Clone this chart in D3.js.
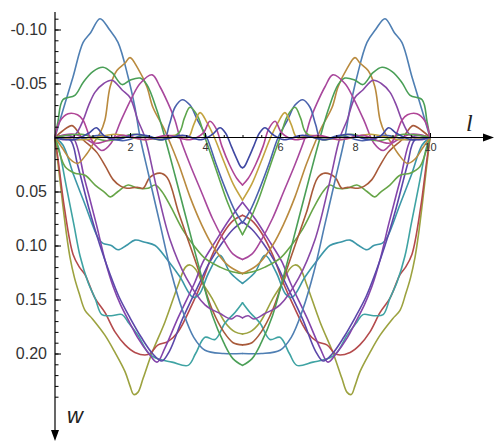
<!DOCTYPE html>
<html>
<head>
<meta charset="utf-8">
<script src="https://cdnjs.cloudflare.com/ajax/libs/d3/7.8.5/d3.min.js"></script>
<style>
  html, body { margin: 0; padding: 0; background: #fff; }
  svg { display: block; }
  .tick text { fill: #333; font-family: "Liberation Sans", Arial, sans-serif; }
</style>
</head>
<body>
<svg id="chart" width="494" height="441"></svg>
<script>
// Deflection snapshots w(l). The figure is mirror-symmetric about l = 5,
// so each curve is read off the left half (l = 0..5) and drawn twice,
// once with the normal x scale and once with the mirrored one.

const xTicks = [2, 4, 6, 8, 10];
const yTicks = [-0.10, -0.05, 0.05, 0.10, 0.15, 0.20];

// --- curves with a bump above the axis, then dropping toward the middle
const steelBlue = [[0,0],[0.21,-0.025],[0.48,-0.056],[0.75,-0.088],[0.95,-0.097],[1.2,-0.11],[1.45,-0.1],[1.68,-0.088],[1.95,-0.056],[2.13,-0.028],[2.27,0],[2.5,0.035],[2.8,0.08],[3.1,0.125],[3.4,0.16],[3.7,0.185],[4.0,0.197],[4.5,0.2],[5,0.2]];
const orange = [[0,0],[0.2,0.01],[0.4,0.02],[0.6,0.024],[0.85,0.015],[1.05,0.004],[1.2,-0.004],[1.33,-0.016],[1.47,-0.047],[1.65,-0.062],[1.87,-0.069],[2.0,-0.074],[2.21,-0.064],[2.45,-0.047],[2.61,-0.028],[2.88,-0.01],[3.01,0],[3.3,0.025],[3.6,0.055],[3.9,0.08],[4.2,0.1],[4.6,0.118],[5,0.126]];
const green = [[0,0],[0.08,-0.015],[0.21,-0.035],[0.53,-0.039],[0.75,-0.051],[1.01,-0.061],[1.28,-0.065],[1.52,-0.06],[1.79,-0.049],[2.0,-0.053],[2.27,-0.055],[2.45,-0.049],[2.72,-0.025],[2.93,0],[3.2,0.035],[3.5,0.075],[3.9,0.128],[4.2,0.165],[4.5,0.19],[4.75,0.205],[5,0.211]];
const purple = [[0,0],[0.3,0.002],[0.55,-0.003],[0.75,-0.016],[0.9,-0.03],[1.07,-0.042],[1.3,-0.05],[1.52,-0.053],[1.79,-0.044],[2.0,-0.037],[2.21,-0.016],[2.4,0],[2.7,0.045],[3.07,0.095],[3.5,0.13],[4.0,0.155],[4.4,0.163],[4.7,0.168],[4.85,0.165],[5,0.167]];
const magenta = [[0,0],[0.5,-0.003],[1.0,0.005],[1.25,0.012],[1.5,0.005],[1.75,-0.015],[2.05,-0.037],[2.27,-0.05],[2.59,-0.058],[2.8,-0.047],[3.01,-0.032],[3.2,-0.016],[3.33,0],[3.6,0.025],[3.9,0.05],[4.2,0.075],[4.5,0.095],[4.75,0.108],[5,0.113]];
const blue = [[0,0],[0.6,0.002],[1.2,-0.002],[1.8,0.003],[2.4,-0.002],[2.9,0.002],[3.05,-0.012],[3.2,-0.028],[3.39,-0.035],[3.6,-0.03],[3.8,-0.016],[4.05,0],[4.3,0.025],[4.55,0.048],[4.8,0.068],[5,0.079]];
const green2 = [[0,0],[0.7,-0.003],[1.4,0.003],[2.1,-0.003],[2.8,0.002],[3.3,-0.004],[3.45,-0.018],[3.6,-0.028],[3.8,-0.02],[4.0,0],[4.3,0.03],[4.6,0.06],[4.85,0.08],[5,0.09]];
const amber = [[0,0],[0.8,0.002],[1.6,-0.003],[2.4,0.002],[3.2,-0.002],[3.55,0],[3.7,-0.012],[3.87,-0.023],[4.05,-0.014],[4.25,0],[4.5,0.022],[4.75,0.043],[5,0.058]];
const rose = [[0,0],[0.13,-0.015],[0.35,-0.022],[0.6,-0.021],[0.75,-0.016],[0.9,-0.003],[1.05,0.005],[1.3,0.004],[1.8,-0.002],[2.4,0.002],[3.0,-0.002],[3.6,0.002],[3.95,-0.004],[4.13,-0.015],[4.3,-0.008],[4.45,0.008],[4.65,0.025],[4.85,0.038],[5,0.044]];
const navy = [[0,0],[0.5,0.002],[0.9,-0.004],[1.1,-0.009],[1.3,-0.002],[1.6,0.002],[2.2,-0.003],[2.8,0.002],[3.4,-0.002],[3.9,0.002],[4.2,-0.003],[4.4,-0.009],[4.55,-0.004],[4.7,0.008],[4.85,0.02],[4.95,0.027],[5,0.028]];
const brown = [[0,0],[0.2,-0.006],[0.45,-0.011],[0.6,-0.006],[0.75,0.002],[0.95,0.008],[1.12,0.014],[1.35,0.027],[1.55,0.039],[1.75,0.045],[1.92,0.047],[2.19,0.046],[2.35,0.047],[2.53,0.037],[2.8,0.033],[2.99,0.037],[3.3,0.07],[3.6,0.1],[3.9,0.13],[4.2,0.16],[4.5,0.18],[4.75,0.19],[5,0.192]];
const lime = [[0,0],[0.1,0.012],[0.27,0.027],[0.53,0.033],[0.8,0.035],[1.07,0.044],[1.33,0.051],[1.47,0.055],[1.68,0.05],[1.95,0.044],[2.21,0.047],[2.48,0.047],[2.67,0.044],[2.85,0.05],[3.1,0.065],[3.4,0.085],[3.7,0.1],[4.0,0.112],[4.4,0.12],[4.7,0.124],[5,0.126]];

// --- curves dropping straight down from the ends, then rising to the middle
const olive = [[0,0],[0.1,0.03],[0.2,0.06],[0.3,0.088],[0.4,0.111],[0.52,0.13],[0.65,0.145],[0.8,0.16],[1.0,0.168],[1.33,0.183],[1.6,0.199],[1.87,0.217],[2.0,0.23],[2.1,0.238],[2.21,0.236],[2.35,0.223],[2.59,0.199],[2.93,0.171],[3.28,0.137],[3.48,0.12],[3.6,0.118],[3.75,0.122],[3.92,0.134],[4.19,0.149],[4.53,0.171],[4.8,0.18],[5,0.182]];
const red = [[0,0],[0.1,0.025],[0.25,0.065],[0.48,0.108],[0.65,0.12],[0.8,0.127],[1.07,0.149],[1.33,0.162],[1.6,0.18],[1.87,0.192],[2.13,0.199],[2.48,0.201],[2.75,0.192],[3.01,0.189],[3.28,0.18],[3.65,0.155],[3.92,0.134],[4.19,0.109],[4.5,0.088],[4.75,0.077],[5,0.072]];
const teal = [[0,0],[0.1,0.01],[0.3,0.045],[0.5,0.08],[0.67,0.11],[0.88,0.134],[1.07,0.149],[1.25,0.164],[1.5,0.165],[1.79,0.164],[1.95,0.171],[2.21,0.183],[2.48,0.199],[2.67,0.204],[3.12,0.208],[3.55,0.211],[3.75,0.2],[4.0,0.185],[4.27,0.187],[4.53,0.172],[4.8,0.162],[5,0.153]];
const cyan = [[0,0],[0.21,0.007],[0.5,0.035],[0.8,0.062],[1.15,0.093],[1.28,0.098],[1.5,0.1],[1.68,0.104],[1.9,0.1],[2.13,0.095],[2.4,0.097],[2.67,0.1],[2.99,0.113],[3.33,0.129],[3.68,0.148],[3.85,0.145],[4.1,0.125],[4.4,0.109],[4.67,0.125],[5,0.135]];
const violet = [[0,0],[0.25,-0.002],[0.48,0],[0.8,0.04],[1.1,0.08],[1.33,0.113],[1.55,0.138],[1.75,0.155],[2.0,0.172],[2.2,0.185],[2.5,0.2],[2.72,0.208],[2.93,0.195],[3.28,0.167],[3.73,0.134],[3.95,0.115],[4.3,0.095],[4.65,0.076],[5,0.06]];
const indigo = [[0,0],[0.4,0.002],[0.6,0.025],[0.9,0.065],[1.2,0.1],[1.45,0.125],[1.7,0.147],[2.0,0.167],[2.3,0.185],[2.6,0.2],[2.85,0.207],[3.05,0.198],[3.4,0.168],[3.85,0.135],[4.1,0.117],[4.45,0.098],[4.75,0.085],[5,0.078]];

const curves = [
  ["olive", olive], ["red", red], ["teal", teal], ["cyan", cyan], ["violet", violet], ["indigo", indigo],
  ["lime", lime], ["brown", brown], ["steelBlue", steelBlue], ["orange", orange], ["green", green],
  ["purple", purple], ["magenta", magenta], ["blue", blue], ["green2", green2], ["amber", amber],
  ["rose", rose], ["navy", navy]
];

const colors = {
  steelBlue: "#4f7fb3", orange: "#b98a3e", green: "#4a9f57", purple: "#8848a6", magenta: "#a8479c",
  blue: "#4b62ad", green2: "#5da64c", amber: "#c3a33f", rose: "#b04596", navy: "#3f48a2",
  brown: "#a85a3a", lime: "#67a548", olive: "#9ca23f", red: "#b44a4c", teal: "#3fa3a3",
  cyan: "#3c97a8", violet: "#8444ab", indigo: "#5c47aa"
};

const svg = d3.select("#chart");
const x = d3.scaleLinear().domain([0, 10]).range([55, 430]);
const xMirror = d3.scaleLinear().domain([10, 0]).range([55, 430]);
const y = d3.scaleLinear().domain([0, 0.2]).range([137.5, 353.5]);

// curves
const gCurves = svg.append("g").attr("fill", "none").attr("stroke-width", 1.6)
  .attr("stroke-linejoin", "round").attr("stroke-linecap", "round");
[x, xMirror].forEach((sx) => {
  const line = d3.line().x((d) => sx(d[0])).y((d) => y(d[1])).curve(d3.curveCatmullRom.alpha(0.5));
  curves.forEach(([name, pts]) => {
    gCurves.append("path").datum(pts).attr("stroke", colors[name]).attr("d", line);
  });
});

// y axis: minor ticks every 0.01, labelled major ticks
const yMinor = d3.range(-11, 25).map((k) => k / 100);
svg.append("g").attr("transform", `translate(${x(0)},0)`)
  .call(d3.axisLeft(y).tickValues(yMinor).tickSize(-3.5).tickFormat(""))
  .call((g) => g.select(".domain").remove())
  .call((g) => g.selectAll("line").attr("stroke", "#000"));
svg.append("g").attr("transform", `translate(${x(0)},0)`)
  .call(d3.axisLeft(y).tickValues(yTicks).tickSize(-6).tickPadding(8).tickFormat((d) => d.toFixed(2)))
  .call((g) => g.select(".domain").remove())
  .call((g) => g.selectAll("line").attr("stroke", "#000"))
  .call((g) => g.selectAll("text").style("font-size", "16px"));

// x axis ticks
const xMinor = d3.range(1, 21).map((k) => k / 2);
svg.append("g").attr("transform", `translate(0,${y(0)})`)
  .call(d3.axisBottom(x).tickValues(xMinor).tickSize(-2.5).tickFormat(""))
  .call((g) => g.select(".domain").remove())
  .call((g) => g.selectAll("line").attr("stroke", "#000"));
svg.append("g").attr("transform", `translate(0,${y(0)})`)
  .call(d3.axisBottom(x).tickValues(xTicks).tickSize(-4.5).tickPadding(6))
  .call((g) => g.select(".domain").remove())
  .call((g) => g.selectAll("line").attr("stroke", "#000"))
  .call((g) => g.selectAll("text").style("font-size", "11px"));

// axis lines with arrowheads
const x0 = x(0), y0 = y(0);
svg.append("line").attr("x1", x0).attr("x2", 486).attr("y1", y0).attr("y2", y0)
  .attr("stroke", "#000").attr("stroke-width", 1.2);
svg.append("path").attr("d", `M494,${y0} L483,${y0 - 4} L483,${y0 + 4} Z`).attr("fill", "#000");
svg.append("line").attr("x1", x0).attr("x2", x0).attr("y1", 12).attr("y2", 432)
  .attr("stroke", "#000").attr("stroke-width", 1.2);
svg.append("path").attr("d", `M${x0},441 L${x0 - 4},430 L${x0 + 4},430 Z`).attr("fill", "#000");

svg.append("text").attr("x", 466).attr("y", 131).text("l")
  .style("font-family", "'Liberation Serif', 'Times New Roman', serif")
  .style("font-style", "italic").style("font-size", "24px").attr("fill", "#222");
svg.append("text").attr("x", 67).attr("y", 423).text("w")
  .style("font-family", "'Liberation Sans', Arial, sans-serif")
  .style("font-style", "italic").style("font-size", "22px").attr("fill", "#222");
</script>
</body>
</html>
